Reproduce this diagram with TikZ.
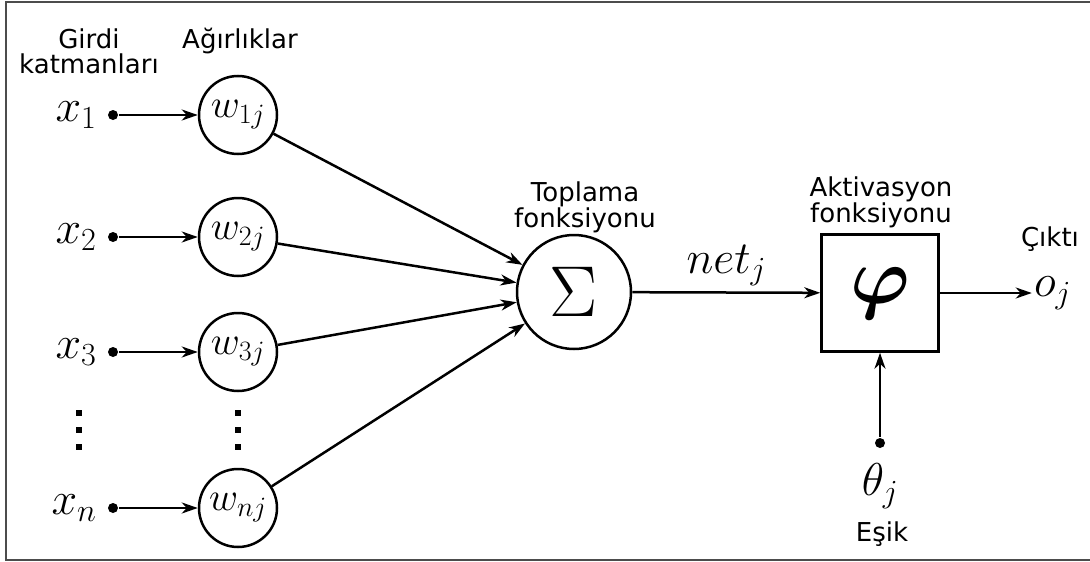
\RequirePackage{fix-cm}
\documentclass[tikz,border=0pt]{standalone}
\usepackage{amsmath}
\usepackage{fontspec}
\setmainfont{DejaVu Sans}
\usepackage{tikz}
\usetikzlibrary{arrows.meta,positioning}

\begin{document}
\begin{tikzpicture}[
			x = 1pt, y = -1pt,
			line width = 2.5pt,
			>={Stealth[length=16pt,width=11pt,inset=5pt]},
			txt/.style = {font=\fontsize{26}{25}\selectfont, align=center, inner sep=0pt, anchor=north},
			sym/.style = {font=\fontsize{46}{46}\selectfont, inner sep=1pt},
			dot/.style = {circle, fill, inner sep=0pt, minimum size=10pt},
			weight/.style = {circle, draw, minimum size=78pt, inner sep=0pt, font=\fontsize{40}{40}\selectfont}
			]

			\useasboundingbox (0,0) rectangle (1090,562);
			\draw[gray!60!black, line width=2.5pt] (1090,2) -- (6,2) -- (6,560) -- (1090,560);

			% inputs and weights
			\foreach \i/\y in {1/115, 2/237, 3/352, n/508}{
				\node[dot] (d\i) at (113,\y) {};
				\node[sym, left=8pt of d\i] (x\i) {$x_{\i}$};
				\node[weight] (w\i) at (238,\y) {$w_{\i j}$};
				\draw[->] (d\i) -- (w\i);
			}
			\foreach \cx in {79,238}
				\foreach \cy in {413,430,447}
					\fill (\cx-3,\cy-3) rectangle ++(6,6);

			% summation and activation
			\node[circle, draw, minimum size=114pt, inner sep=0pt, font=\fontsize{72}{72}\selectfont] (sum) at (574,292) {$\Sigma$};
			\node[draw, minimum size=117pt, inner sep=0pt, font=\fontsize{80}{80}\selectfont] (act) at (880,293) {$\boldsymbol{\varphi}$};
			\foreach \i in {1,2,3,n}
				\draw[->] (w\i) -- (sum);
			\draw[->] (sum) -- node[sym, above=4pt] (net) {$net_j$} (act);

			% output and threshold
			\node[sym, right=92pt of act] (out) {$o_j$};
			\draw[->] (act) -- (out);
			\node[dot] (th) at (880,443) {};
			\draw[->] (th) -- (act);
			\node[sym, below=12pt of th] (theta) {$\theta_j$};

			% captions
			\node[txt] (girdi) at (89,27) {Girdi\\katmanları};
			\node[txt] (agirlik) at (240,27) {Ağırlıklar};
			\node[txt] (toplama) at (585,180) {Toplama\\fonksiyonu};
			\node[txt] (aktiv) at (881,175) {Aktivasyon\\fonksiyonu};
			\node[txt] (cikti) at (1050,225) {Çıktı};
			\node[txt] (esik) at (882,520) {Eşik};

		\end{tikzpicture}
\end{document}
